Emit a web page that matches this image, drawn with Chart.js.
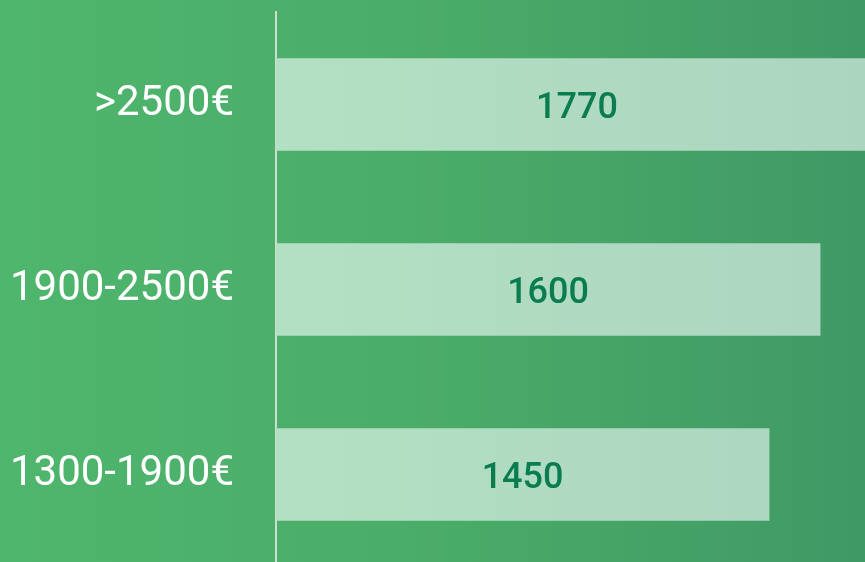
<!DOCTYPE html>
<html>
<head>
<meta charset="utf-8">
<script src="https://cdn.jsdelivr.net/npm/chart.js@4"></script>
<style>
    html, body { margin: 0; padding: 0; overflow: hidden; }
    body { width: 865px; height: 562px; background: linear-gradient(to right, #4fb66d 0%, #4aac68 50%, #3f9965 100%); }
    #wrap { width: 865px; height: 567px; }
</style>
</head>
<body>
<div id="wrap"><canvas id="salaryChart"></canvas></div>
<script>
// Chart data
const categories = [">2500€", "1900-2500€", "1300-1900€"];
const values = [1770, 1600, 1450];
const axisMax = 1732;

// Draws the value in the middle of each bar
const valueLabels = {
    id: "valueLabels",
    afterDatasetsDraw(chart) {
        let ctx = chart.ctx;
        let meta = chart.getDatasetMeta(0);
        ctx.save();
        ctx.font = "500 36px Roboto";
        ctx.fillStyle = "#0a7d50";
        ctx.textAlign = "center";
        ctx.textBaseline = "middle";
        meta.data.forEach((bar, i) => {
            ctx.fillText(values[i], (bar.x + bar.base) / 2, bar.y + 4);
        });
        ctx.restore();
    }
};

function barGradient(context) {
    let area = context.chart.chartArea;
    if (!area) return "#b2dec1";
    let g = context.chart.ctx.createLinearGradient(area.left, 0, area.right, 0);
    g.addColorStop(0, "#b3e0c2");
    g.addColorStop(1, "#acd5c0");
    return g;
}

let ctx = document.getElementById("salaryChart").getContext("2d");
let chart = new Chart(ctx, {
    type: "bar",
    data: {
        labels: categories,
        datasets: [{
            data: values,
            backgroundColor: barGradient,
            borderWidth: 0,
            barThickness: 92
        }]
    },
    options: {
        indexAxis: "y",
        responsive: true,
        maintainAspectRatio: false,
        animation: false,
        layout: { padding: { top: 12, left: 0, right: 0, bottom: 0 } },
        scales: {
            x: { display: false, min: 0, max: axisMax },
            y: {
                afterFit(scale) {
                    scale.width = 276;
                    scale.paddingTop = 0;
                    scale.paddingBottom = 0;
                },
                grid: { display: false, drawTicks: false },
                border: { display: true, color: "#cfdcd2", width: 2 },
                ticks: {
                    color: "#ffffff",
                    padding: 42,
                    font: { family: "Roboto", size: 42 }
                }
            }
        },
        plugins: {
            legend: { display: false },
            tooltip: { enabled: false }
        }
    },
    plugins: [valueLabels]
});
</script>
</body>
</html>
